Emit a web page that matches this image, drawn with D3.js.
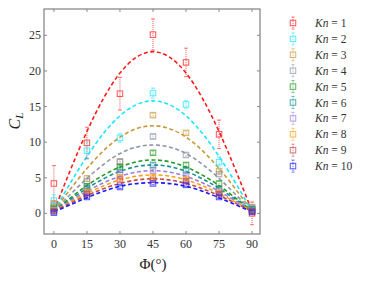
<!DOCTYPE html>
<html><head><meta charset="utf-8">
<script src="https://cdn.jsdelivr.net/npm/d3@7"></script>
<style>body{margin:0;background:#fff}svg{display:block}</style>
</head><body><div id="c"></div>
<script>
const angles = [0, 15, 30, 45, 60, 75, 90];
const knLabels = ["1","2","3","4","5","6","7","8","9","10"];
const colors = ["#ff1a1a","#1ae6ff","#c89a3c","#8c96a8","#229922","#1a9090","#9a7ee0","#ffa31a","#c84848","#1a1aff"];
// measured C_L
const meas = [
  [4.2, 9.9, 16.8, 25.1, 21.2, 11.1, 0.0],
  [1.8, 8.8, 10.6, 16.9, 15.3, 7.2, 0.5],
  [1.4, 4.9, 7.2, 13.8, 11.3, 5.9, 0.8],
  [1.1, 4.5, 7.3, 10.8, 8.2, 5.5, 0.9],
  [0.8, 3.8, 6.5, 8.5, 6.8, 4.2, 0.6],
  [0.6, 3.5, 6.1, 6.8, 6.1, 3.4, 0.5],
  [0.5, 3.2, 5.6, 6.0, 5.2, 3.1, 0.4],
  [0.4, 3.0, 5.1, 5.1, 4.8, 2.9, 0.3],
  [0.3, 2.7, 4.7, 4.7, 4.5, 2.7, 0.3],
  [0.1, 2.3, 3.7, 4.2, 4.0, 2.3, 0.2]
];
// error bar half-widths
const errs = [
  [2.5, 2.2, 2.3, 2.2, 2.0, 2.0, 1.6],
  [0.8, 1.2, 0.6, 0.7, 0.5, 0.7, 0.4],
  [0.3, 0.4, 0.4, 0.3, 0.3, 0.3, 0.2],
  [0.3, 0.3, 0.3, 0.3, 0.3, 0.3, 0.2],
  [0.2, 0.3, 0.3, 0.3, 0.3, 0.3, 0.2],
  [0.2, 0.3, 0.3, 0.3, 0.2, 0.3, 0.2],
  [0.2, 0.2, 0.2, 0.2, 0.2, 0.2, 0.2],
  [0.2, 0.2, 0.2, 0.2, 0.2, 0.2, 0.2],
  [0.2, 0.2, 0.2, 0.2, 0.2, 0.2, 0.2],
  [0.2, 0.2, 0.2, 0.2, 0.2, 0.2, 0.2]
];
// fitted curves read at the same angles
const fits = [
  [0.3, 11.5, 19.7, 22.7, 19.7, 11.5, 0.3],
  [0.3, 8.0, 13.7, 15.8, 13.7, 8.0, 0.3],
  [0.3, 6.3, 10.7, 12.3, 10.7, 6.3, 0.3],
  [0.3, 4.9, 8.4, 9.6, 8.4, 4.9, 0.3],
  [0.3, 3.9, 6.5, 7.5, 6.5, 3.9, 0.3],
  [0.3, 3.5, 5.9, 6.8, 5.9, 3.5, 0.3],
  [0.3, 3.1, 5.2, 6.0, 5.2, 3.1, 0.3],
  [0.3, 2.8, 4.7, 5.4, 4.7, 2.8, 0.3],
  [0.3, 2.5, 4.2, 4.85, 4.2, 2.5, 0.3],
  [0.2, 2.2, 3.8, 4.3, 3.8, 2.2, 0.2]
];
const xTicks = [0, 15, 30, 45, 60, 75, 90];
const yTicks = [0, 5, 10, 15, 20, 25];

const W = 374, H = 281;
const L = 44, R = 260, T = 9, B = 234;
const svg = d3.select("#c").append("svg").attr("width", W).attr("height", H);
const x = d3.scaleLinear().domain([-4.5, 93.6]).range([L, R]);
const y = d3.scaleLinear().domain([-2.9, 28.7]).range([B, T]);
const font = "Liberation Serif, DejaVu Serif, serif";
const axisColor = "#8a8a8a";

const clip = svg.append("clipPath").attr("id","cp").append("rect")
  .attr("x", L).attr("y", T).attr("width", R-L).attr("height", B-T);
const plot = svg.append("g").attr("clip-path","url(#cp)");

const line = d3.line().x((d,i)=>x(angles[i])).y(d=>y(d)).curve(d3.curveNatural);
fits.forEach((f,k)=>{
  plot.append("path").attr("d", line(f)).attr("fill","none")
    .attr("stroke", colors[k]).attr("stroke-width", 1.6)
    .attr("stroke-dasharray","4,2.6");
});

const ms = 5.5;
meas.forEach((m,k)=>{
  const g = plot.append("g").attr("opacity", 0.75);
  m.forEach((v,i)=>{
    const cx = x(angles[i]), e = errs[k][i];
    g.append("line").attr("x1",cx).attr("x2",cx).attr("y1",y(v+e)).attr("y2",y(v-e))
      .attr("stroke",colors[k]).attr("stroke-width",1).attr("stroke-dasharray","1,1");
    [v+e, v-e].forEach(c=>g.append("line").attr("x1",cx-2).attr("x2",cx+2)
      .attr("y1",y(c)).attr("y2",y(c)).attr("stroke",colors[k]).attr("stroke-width",0.8));
    g.append("rect").attr("x",cx-ms/2).attr("y",y(v)-ms/2).attr("width",ms).attr("height",ms)
      .attr("fill","none").attr("stroke",colors[k]).attr("stroke-width",1);
  });
});

// frame
svg.append("rect").attr("x",L).attr("y",T).attr("width",R-L).attr("height",B-T)
  .attr("fill","none").attr("stroke",axisColor).attr("stroke-width",1.3);
xTicks.forEach(t=>{
  svg.append("line").attr("x1",x(t)).attr("x2",x(t)).attr("y1",B).attr("y2",B-3).attr("stroke",axisColor);
  svg.append("line").attr("x1",x(t)).attr("x2",x(t)).attr("y1",T).attr("y2",T+3).attr("stroke",axisColor);
  svg.append("text").attr("x",x(t)).attr("y",B+14).attr("text-anchor","middle")
    .attr("font-family",font).attr("font-size",12).attr("fill","#333").text(t);
});
yTicks.forEach(t=>{
  svg.append("line").attr("x1",L).attr("x2",L+3).attr("y1",y(t)).attr("y2",y(t)).attr("stroke",axisColor);
  svg.append("line").attr("x1",R).attr("x2",R-3).attr("y1",y(t)).attr("y2",y(t)).attr("stroke",axisColor);
  svg.append("text").attr("x",L-3).attr("y",y(t)+4).attr("text-anchor","end")
    .attr("font-family",font).attr("font-size",12).attr("fill","#333").text(t);
});

// axis labels
const xl = svg.append("text").attr("x",153).attr("y",269).attr("text-anchor","middle")
  .attr("font-family",font).attr("font-size",15).attr("fill","#222");
xl.append("tspan").text("Φ(°)");
const yl = svg.append("text").attr("transform","translate(20,121) rotate(-90)").attr("text-anchor","middle")
  .attr("font-family",font).attr("font-size",16).attr("fill","#222");
yl.append("tspan").attr("font-style","italic").text("C");
yl.append("tspan").attr("font-style","italic").attr("font-size",11).attr("dy",3).text("L");

// legend
knLabels.forEach((lab,k)=>{
  const ly = 23 + k*15.9, lx = 293;
  const g = svg.append("g").attr("opacity",0.75);
  g.append("line").attr("x1",lx).attr("x2",lx).attr("y1",ly-6).attr("y2",ly+6)
    .attr("stroke",colors[k]).attr("stroke-dasharray","1,1");
  [ly-6, ly+6].forEach(c=>g.append("line").attr("x1",lx-1.5).attr("x2",lx+1.5).attr("y1",c).attr("y2",c).attr("stroke",colors[k]).attr("stroke-width",0.8));
  g.append("rect").attr("x",lx-ms/2).attr("y",ly-ms/2).attr("width",ms).attr("height",ms)
    .attr("fill","none").attr("stroke",colors[k]);
  const t = svg.append("text").attr("x",315).attr("y",ly+4).attr("font-family",font)
    .attr("font-size",11.5).attr("fill","#333");
  t.append("tspan").attr("font-style","italic").text("Kn");
  t.append("tspan").text(" = " + lab);
});
</script></body></html>
